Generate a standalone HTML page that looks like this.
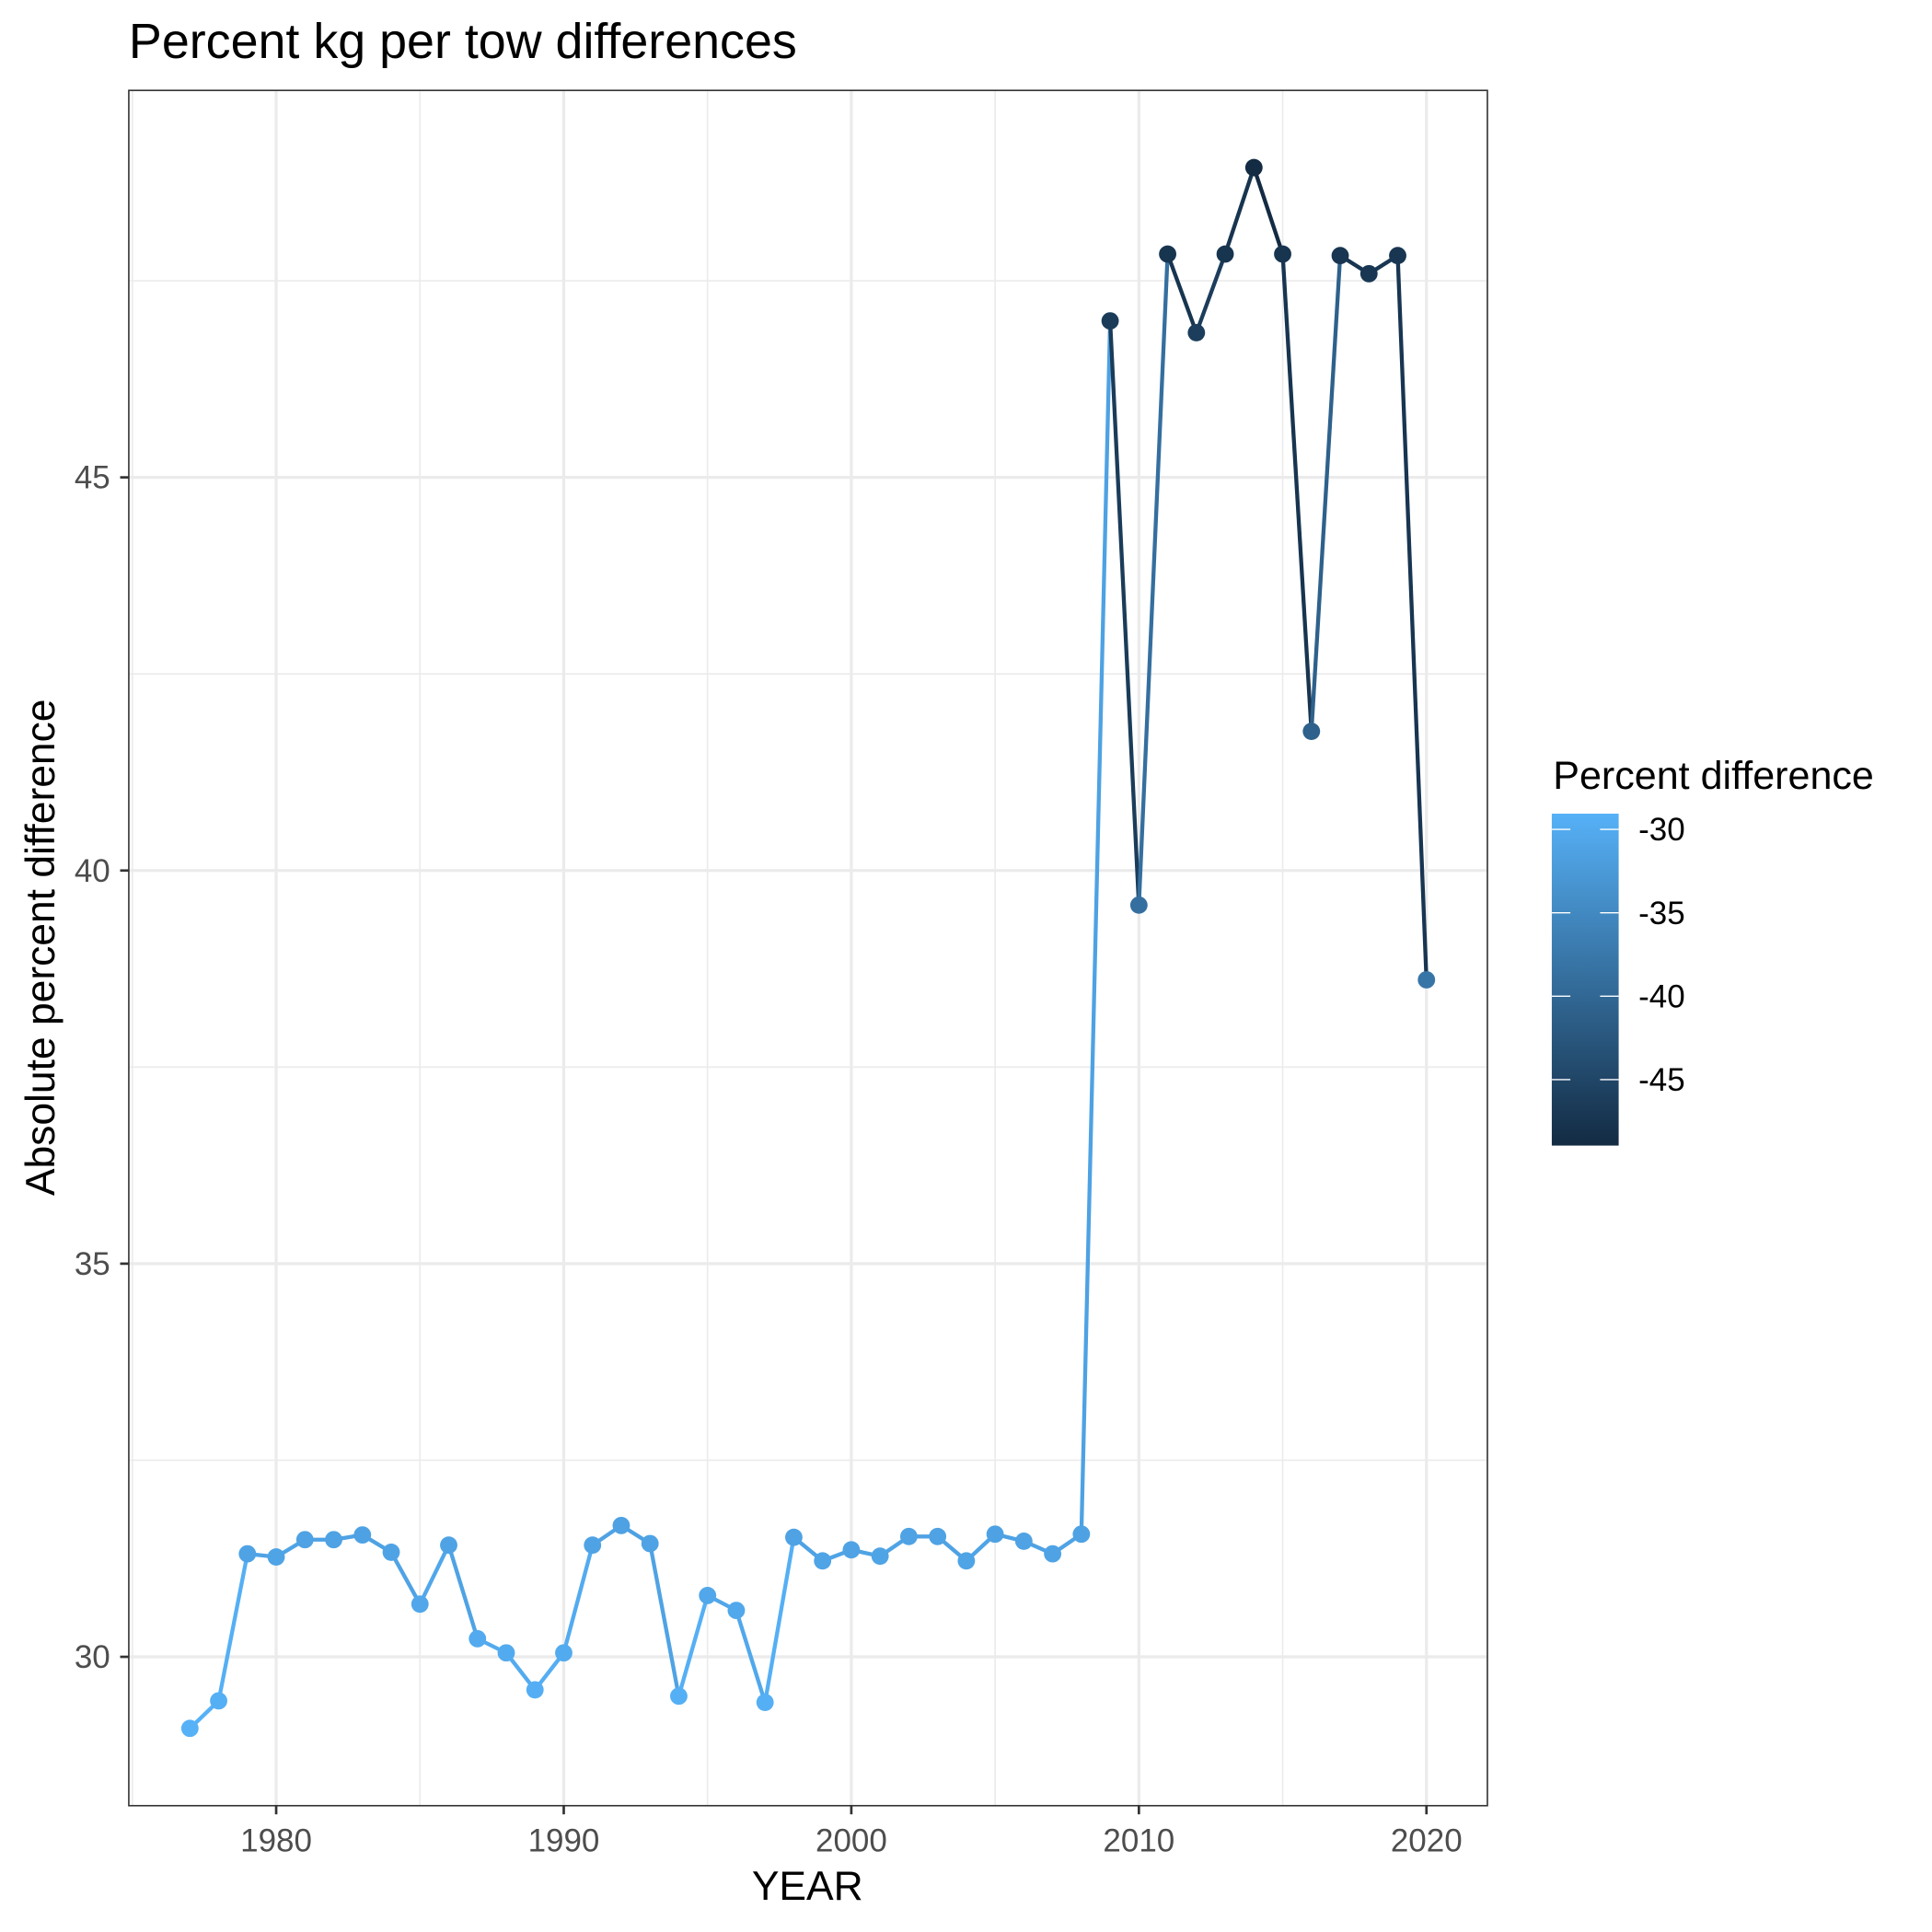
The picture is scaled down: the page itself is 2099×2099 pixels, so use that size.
<!DOCTYPE html>
<html><head><meta charset="utf-8"><style>
html,body{margin:0;padding:0;background:#fff}
svg{display:block;font-family:"Liberation Sans",Arial,sans-serif}
</style></head><body>
<svg id="chart" width="2099" height="2099" viewBox="0 0 1560 1560" xmlns="http://www.w3.org/2000/svg">
<defs>
<linearGradient id="lg" x1="0" y1="1" x2="0" y2="0">
<stop offset="0" stop-color="#132B43"/><stop offset="1" stop-color="#56B1F7"/>
</linearGradient>
</defs>
<text x="104" y="47" font-size="40" fill="#000">Percent kg per tow differences</text>
<g id="grid"></g>
<rect x="104" y="73" width="1097" height="1385" fill="none" stroke="#333" stroke-width="1.2"/>
<g id="series"></g>
<g id="axes"></g>
<text x="652" y="1534" font-size="33" text-anchor="middle">YEAR</text>
<text transform="translate(44,765) rotate(-90)" font-size="33" text-anchor="middle">Absolute percent difference</text>
<g id="legend">
<text x="1254" y="637" font-size="32">Percent difference</text>
<rect x="1253" y="657" width="54" height="268" fill="url(#lg)"/>
</g>
</svg>
<script>
const years=[1977,1978,1979,1980,1981,1982,1983,1984,1985,1986,1987,1988,1989,1990,1991,1992,1993,1994,1995,1996,1997,1998,1999,2000,2001,2002,2003,2004,2005,2006,2007,2008,2009,2010,2011,2012,2013,2014,2015,2016,2017,2018,2019,2020];
const values=[29.09,29.44,31.31,31.27,31.49,31.49,31.55,31.33,30.67,31.42,30.23,30.05,29.58,30.05,31.42,31.67,31.44,29.5,30.78,30.59,29.42,31.52,31.22,31.36,31.28,31.53,31.53,31.22,31.56,31.47,31.31,31.56,46.99,39.56,47.84,46.84,47.84,48.94,47.84,41.77,47.82,47.59,47.82,38.61];
const xTicks=[1980,1990,2000,2010,2020];
const yTicks=[30,35,40,45];
const legendTicks=[-30,-35,-40,-45];
const NS='http://www.w3.org/2000/svg';
const X=v=>223+(v-1980)*23.22;
const Y=v=>1337.8-(v-30)*63.49;
const pd=values.map(v=>-v);
const cmin=Math.min(...pd),cmax=Math.max(...pd);
const LY=v=>669.7+(-30-v)*13.47;
function col(p){const t=(p-cmin)/(cmax-cmin);const a=[0x13,0x2B,0x43],b=[0x56,0xB1,0xF7];
return 'rgb('+a.map((c,i)=>Math.round(c+(b[i]-c)*Math.pow(t,0.9))).join(',')+')';}
function mk(tag,attrs,parent){const e=document.createElementNS(NS,tag);for(const k in attrs)e.setAttribute(k,attrs[k]);parent.appendChild(e);return e;}
const grid=document.getElementById('grid'),series=document.getElementById('series'),axes=document.getElementById('axes'),legend=document.getElementById('legend');
const L=104,R=1201,T=73,B=1458;
for(let i=0;i<yTicks.length;i++){const m=yTicks[i]+2.5;const l=mk('line',{x1:L,x2:R,y1:Y(m),y2:Y(m),stroke:'#ebebeb','stroke-width':1.2},grid);

}
[1975,1985,1995,2005,2015].forEach(m=>{if(X(m)>L&&X(m)<R){const l=mk('line',{x1:X(m),x2:X(m),y1:T,y2:B,stroke:'#ebebeb','stroke-width':1.2},grid);

}});
yTicks.forEach(v=>{const l=mk('line',{x1:L,x2:R,y1:Y(v),y2:Y(v),stroke:'#ebebeb','stroke-width':2.4},grid);


const t=mk('line',{x1:97,x2:L,y1:Y(v),y2:Y(v),stroke:'#333','stroke-width':2},axes);


const tx=mk('text',{x:89,y:Y(v)+9,'font-size':26,'text-anchor':'end',fill:'#4d4d4d'},axes);tx.textContent=v;

});
xTicks.forEach(v=>{const l=mk('line',{x1:X(v),x2:X(v),y1:T,y2:B,stroke:'#ebebeb','stroke-width':2.4},grid);


const t=mk('line',{x1:X(v),x2:X(v),y1:B,y2:B+7,stroke:'#333','stroke-width':2},axes);


const tx=mk('text',{x:X(v),y:1495,'font-size':26,'text-anchor':'middle',fill:'#4d4d4d'},axes);tx.textContent=v;

});
for(let i=0;i<years.length-1;i++){const s=mk('line',{x1:X(years[i]),y1:Y(values[i]),x2:X(years[i+1]),y2:Y(values[i+1]),stroke:col(pd[i]),'stroke-width':3.2,'stroke-linecap':'butt'},series);

}
for(let i=0;i<years.length;i++){const c=mk('circle',{cx:X(years[i]),cy:Y(values[i]),r:7,fill:col(pd[i])},series);

}
legendTicks.forEach(v=>{const y=LY(v);
const a=mk('line',{x1:1253,x2:1268,y1:y,y2:y,stroke:'#fff','stroke-width':1},legend);


const b=mk('line',{x1:1292,x2:1307,y1:y,y2:y,stroke:'#fff','stroke-width':1},legend);


const t=mk('text',{x:1323,y:y+9,'font-size':26,fill:'#000'},legend);t.textContent=v;

});
</script>
</body></html>
